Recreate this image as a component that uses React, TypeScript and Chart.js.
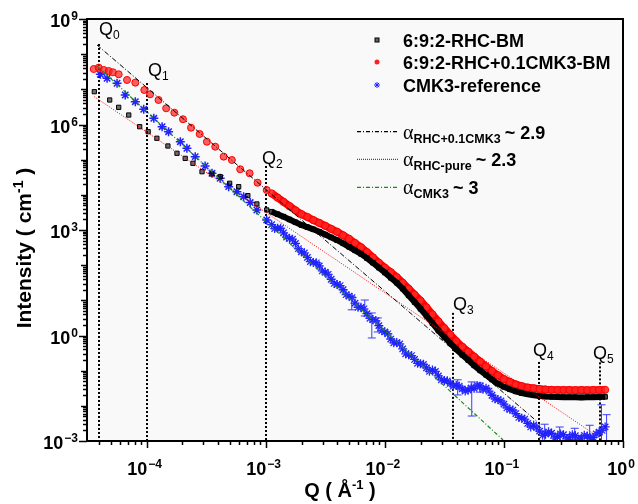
import { useEffect, useRef } from "react";
import { Chart, registerables } from "chart.js";

Chart.register(...registerables);

const FONT = "Arial, 'Liberation Sans', Helvetica, sans-serif";

// ---------- axis ranges ----------
const X_MIN = 3.16e-5;
const X_MAX = 1;
const Y_MIN = 1e-3;
const Y_MAX = 1e9;
const X_DECADES = [-4, -3, -2, -1, 0];
const Y_DECADES = [-3, 0, 3, 6, 9];

// ---------- 6:9:2-RHC-BM (black squares) ----------
const bmLowQ = [3.64e-5, 4.9e-5, 5.83e-5, 7.08e-5, 8.75e-5, 1.03e-4, 1.22e-4, 1.51e-4, 1.8e-4, 2.11e-4, 2.45e-4, 2.92e-4, 3.54e-4, 4.15e-4, 4.98e-4, 5.93e-4, 7.08e-4, 8.43e-4, 1.02e-3];
const bmLowI = [8.57e6, 4.98e6, 3.08e6, 1.86e6, 8.67e5, 6.25e5, 4.06e5, 2.45e5, 1.52e5, 1.09e5, 7.89e4, 4.55e4, 3.92e4, 3.28e4, 2.13e4, 1.71e4, 9.5e3, 5.5e3, 3.71e3];

// dense region Q (shared by the three measured curves)
const denseQ = [
  1.122e-3, 1.259e-3, 1.413e-3, 1.585e-3, 1.778e-3, 1.995e-3, 2.239e-3, 2.512e-3, 2.818e-3, 3.162e-3,
  3.548e-3, 3.981e-3, 4.467e-3, 5.012e-3, 5.623e-3, 6.31e-3, 7.079e-3, 7.943e-3, 8.913e-3, 1.0e-2,
  1.122e-2, 1.259e-2, 1.413e-2, 1.585e-2, 1.778e-2, 1.995e-2, 2.239e-2, 2.512e-2, 2.818e-2, 3.162e-2,
  3.548e-2, 3.981e-2, 4.467e-2, 5.012e-2, 5.623e-2, 6.31e-2, 7.079e-2, 7.943e-2, 8.913e-2, 0.1,
  0.1122, 0.1259, 0.1413, 0.1585, 0.1778, 0.1995, 0.2239, 0.2512, 0.2818, 0.3162,
  0.3548, 0.3981, 0.4467, 0.5012, 0.5623, 0.631, 0.7079,
];
const bmDenseI = [
  3311, 2818, 2399, 1995, 1660, 1380, 1202, 1047, 891, 741,
  617, 513, 417, 331, 263, 209, 158, 117, 85.1, 61.7,
  43.7, 31.6, 21.4, 13.8, 8.91, 5.75, 3.63, 2.24, 1.38, 0.912,
  0.603, 0.407, 0.282, 0.2, 0.141, 0.102, 0.0759, 0.0562, 0.0427, 0.0347,
  0.0295, 0.0257, 0.0229, 0.0214, 0.02, 0.0191, 0.0184, 0.018, 0.0178, 0.0176,
  0.0176, 0.0176, 0.0174, 0.0176, 0.0176, 0.0178, 0.018,
];

// ---------- 6:9:2-RHC+0.1CMK3-BM (red circles) ----------
const cmkLowQ = [3.6e-5, 3.96e-5, 4.37e-5, 4.81e-5, 5.22e-5, 5.83e-5, 6.85e-5, 8.04e-5, 9.57e-5, 1.07e-4, 1.26e-4, 1.46e-4, 1.71e-4, 2.02e-4, 2.36e-4, 2.79e-4, 3.21e-4, 3.77e-4, 4.44e-4, 5.2e-4, 6.11e-4, 7.33e-4, 8.55e-4, 1.02e-3];
const cmkLowI = [3.78e7, 4.12e7, 3.55e7, 3.32e7, 3.05e7, 2.68e7, 1.85e7, 1.55e7, 9.57e6, 7.23e6, 4.98e6, 2.89e6, 2.17e6, 1.41e6, 8.11e5, 5.37e5, 3.24e5, 2.34e5, 1.22e5, 9.79e4, 5.33e4, 4.1e4, 2.21e4, 1.37e4];
const cmkDenseI = [
  10965, 8318, 6310, 4786, 3631, 2818, 2344, 1905, 1585, 1318,
  1072, 891, 708, 562, 427, 324, 234, 166, 117, 85.1,
  63.1, 45.7, 31.6, 21.4, 14.5, 9.77, 6.31, 3.98, 2.51, 1.62,
  1.05, 0.692, 0.479, 0.347, 0.251, 0.182, 0.132, 0.0977, 0.0741, 0.0575,
  0.0479, 0.0407, 0.0363, 0.0331, 0.0316, 0.0302, 0.0292, 0.0285, 0.0282, 0.0282,
  0.0282, 0.0279, 0.0282, 0.0279, 0.0282, 0.0282, 0.0285,
];

// ---------- CMK3-reference (blue stars) ----------
const refLowQ = [4.09e-5, 4.66e-5, 5.65e-5, 6.62e-5, 8.04e-5, 9.46e-5, 1.15e-4, 1.35e-4, 1.53e-4, 1.92e-4, 2.18e-4, 2.56e-4, 3.1e-4, 3.54e-4, 4.15e-4, 4.89e-4, 5.73e-4, 6.53e-4, 7.41e-4, 8.43e-4, 1.02e-3];
const refLowI = [2.68e7, 2.06e7, 1.49e7, 6.9e6, 4.46e6, 2.7e6, 1.5e6, 8.67e5, 6.25e5, 3.24e5, 2.1e5, 1.22e5, 6.61e4, 4.1e4, 2.96e4, 1.71e4, 1.23e4, 8.87e3, 6.03e3, 3.71e3, 1.93e3];
const refDenseI = [
  1413, 1122, 832, 575, 417, 240, 166, 120, 95.5, 63.1,
  39.8, 28.2, 20.0, 13.2, 8.32, 6.31, 4.17, 2.82, 1.91, 1.26,
  0.794, 0.631, 0.417, 0.282, 0.209, 0.158, 0.12, 0.105, 0.0708, 0.0525,
  0.0437, 0.038, 0.0302, 0.0282, 0.0316, 0.0363, 0.0316, 0.02, 0.0151, 0.0112,
  0.00794, 0.00603, 0.00447, 0.00316, 0.00282, 0.00191, 0.00158, 0.00166, 0.00132, 0.00151,
  0.00126, 0.00141, 0.0012, 0.00138, 0.00126, 0.00178, 0.00251,
];
// interleaved reference points (between the dense Q above)
const refMidQ = [
  1.189e-3, 1.334e-3, 1.496e-3, 1.679e-3, 1.884e-3, 2.113e-3, 2.371e-3, 2.661e-3, 2.985e-3, 3.35e-3,
  3.758e-3, 4.217e-3, 4.732e-3, 5.309e-3, 5.957e-3, 6.683e-3, 7.499e-3, 8.414e-3, 9.441e-3,
  1.059e-2, 1.189e-2, 1.334e-2, 1.496e-2, 1.679e-2, 1.884e-2, 2.113e-2, 2.371e-2, 2.661e-2, 2.985e-2,
  3.35e-2, 3.758e-2, 4.217e-2, 4.732e-2, 5.309e-2, 5.957e-2, 6.683e-2, 7.499e-2, 8.414e-2, 9.441e-2,
  0.1059, 0.1189, 0.1334, 0.1496, 0.1679, 0.1884, 0.2113, 0.2371, 0.2661, 0.2985,
  0.335, 0.3758, 0.4217, 0.4732, 0.5309, 0.5957, 0.6683,
];
const refMidI = [
  1096, 1122, 631, 550, 295, 224, 126, 117, 69.2, 55.0,
  30.2, 26.3, 14.5, 12.0, 6.31, 5.75, 3.09, 2.63, 1.38,
  1.12, 0.617, 0.575, 0.302, 0.269, 0.162, 0.151, 0.0955, 0.0955, 0.055,
  0.0513, 0.0363, 0.0363, 0.0263, 0.0324, 0.038, 0.0295, 0.0263, 0.0158, 0.0138,
  0.00871, 0.00759, 0.00468, 0.00417, 0.00251, 0.0024, 0.00145, 0.00182, 0.0012, 0.00158,
  0.00115, 0.00151, 0.00112, 0.00145, 0.00117, 0.00158, 0.002,
];
// error bars on the reference curve
const refErrQ = [5.28e-3, 6.79e-3, 7.78e-3, 8.73e-3, 0.0409, 0.0537, 0.0627, 0.22, 0.294, 0.393, 0.525, 0.66, 0.728];
const refErrLo = [5.37, 3.59, 0.851, 1.26, 0.0204, 0.00513, 0.0245, 0.001, 0.001, 0.0011, 0.001, 0.0009, 0.001];
const refErrHi = [12.6, 10.2, 4.37, 3.16, 0.055, 0.0479, 0.0447, 0.003, 0.0025, 0.0023, 0.0028, 0.0107, 0.0056];

// ---------- power-law fits ----------
const fitCmkQ = [3.84e-5, 0.192];
const fitCmkI = [1.82e8, 3.48e-3];
const fitPureQ = [3.64e-5, 0.56];
const fitPureI = [6.17e6, 1.66e-3];
const fitRefQ = [3.84e-5, 0.0984];
const fitRefI = [4.61e7, 1.07e-3];

// ---------- Q markers ----------
const qMarkNames = ["0", "1", "2", "3", "4", "5"];
const qMarkQ = [3.96e-5, 1.0e-4, 1.0e-3, 0.0374, 0.196, 0.64];
const qMarkTopI = [1.95e8, 1.51e7, 6.6e4, 4.4, 0.177, 0.172];

// ---------- legend text ----------
const seriesNames = ["6:9:2-RHC-BM", "6:9:2-RHC+0.1CMK3-BM", "CMK3-reference"];
const fitSubs = ["RHC+0.1CMK3", "RHC-pure", "CMK3"];
const fitValues = ["~ 2.9", "~ 2.3", "~ 3"];

// style-only constants (not data)
const Q_LABEL_DX = [0, 1, -4, 0, -6, -7];
const Q_LABEL_DY = [-9, -7, -2, -3, -6, -3];

const toXY = (q: number[], v: number[]) => q.map((x, k) => ({ x, y: v[k] }));

function drawPow(ctx: CanvasRenderingContext2D, base: string, exp: string, x: number, y: number, align: "center" | "right") {
  ctx.font = `bold 18px ${FONT}`;
  const wb = ctx.measureText(base).width;
  ctx.font = `bold 12px ${FONT}`;
  const we = ctx.measureText(exp).width;
  const total = wb + we + 1;
  const x0 = align === "center" ? x - total / 2 : x - total;
  ctx.textAlign = "left";
  ctx.textBaseline = "alphabetic";
  ctx.font = `bold 18px ${FONT}`;
  ctx.fillText(base, x0, y);
  ctx.font = `bold 12px ${FONT}`;
  ctx.fillText(exp, x0 + wb + 1, y - 7);
}

function expText(d: number) {
  return d < 0 ? "\u2212" + String(-d) : String(d);
}

const decor = {
  id: "decor",
  beforeDraw(chart: any) {
    const { ctx, chartArea: a } = chart;
    ctx.save();
    ctx.fillStyle = "#ffffff";
    ctx.fillRect(0, 0, chart.width, chart.height);
    ctx.fillStyle = "#f9f9f9";
    ctx.fillRect(a.left, a.top, a.right - a.left, a.bottom - a.top);
    ctx.restore();
  },
  beforeDatasetsDraw(chart: any) {
    const { ctx, chartArea: a } = chart;
    const xs = chart.scales.x;
    const ys = chart.scales.y;
    ctx.save();
    ctx.beginPath();
    ctx.rect(a.left, a.top, a.right - a.left, a.bottom - a.top);
    ctx.clip();
    // dotted Q lines
    ctx.strokeStyle = "#000";
    ctx.lineWidth = 2;
    ctx.setLineDash([2, 2]);
    qMarkQ.forEach((q, k) => {
      const px = Math.round(xs.getPixelForValue(q));
      const top = ys.getPixelForValue(qMarkTopI[k]);
      ctx.beginPath();
      ctx.moveTo(px, top);
      ctx.lineTo(px, a.bottom);
      ctx.stroke();
    });
    ctx.setLineDash([]);
    // error bars
    ctx.strokeStyle = "#3b3bff";
    ctx.lineWidth = 1;
    refErrQ.forEach((q, k) => {
      const px = xs.getPixelForValue(q);
      const y1 = ys.getPixelForValue(refErrLo[k]);
      const y2 = ys.getPixelForValue(refErrHi[k]);
      ctx.beginPath();
      ctx.moveTo(px, y1);
      ctx.lineTo(px, y2);
      ctx.moveTo(px - 4, y1);
      ctx.lineTo(px + 4, y1);
      ctx.moveTo(px - 4, y2);
      ctx.lineTo(px + 4, y2);
      ctx.stroke();
    });
    ctx.restore();
  },
  afterDraw(chart: any) {
    const { ctx, chartArea: a } = chart;
    const xs = chart.scales.x;
    const ys = chart.scales.y;
    ctx.save();
    ctx.fillStyle = "#000";
    ctx.strokeStyle = "#000";

    // ticks
    ctx.lineWidth = 1.5;
    ctx.beginPath();
    for (let d = -5; d <= 0; d++) {
      for (let m = 1; m <= 9; m++) {
        const v = m * Math.pow(10, d);
        if (v < X_MIN * 0.999 || v > X_MAX * 1.0001) continue;
        const px = Math.round(xs.getPixelForValue(v)) + 0.5;
        const len = m === 1 ? 7 : 4;
        ctx.moveTo(px, a.bottom);
        ctx.lineTo(px, a.bottom + len);
      }
    }
    for (let d = -3; d <= 9; d++) {
      for (let m = 1; m <= 9; m++) {
        const v = m * Math.pow(10, d);
        if (v > Y_MAX * 1.0001) continue;
        const py = Math.round(ys.getPixelForValue(v)) + 0.5;
        const len = m === 1 ? (d % 3 === 0 ? 8 : 6) : 4;
        ctx.moveTo(a.left - len, py);
        ctx.lineTo(a.left, py);
      }
    }
    ctx.stroke();

    // frame
    ctx.lineWidth = 2;
    ctx.strokeRect(a.left, a.top, a.right - a.left, a.bottom - a.top);

    // tick labels
    X_DECADES.forEach((d) => {
      const px = xs.getPixelForValue(Math.pow(10, d));
      drawPow(ctx, "10", expText(d), px - 2, 475, "center");
    });
    Y_DECADES.forEach((d) => {
      const py = ys.getPixelForValue(Math.pow(10, d));
      drawPow(ctx, "10", expText(d), 78, py + 8, "right");
    });

    // axis titles
    const drawTitle = (parts: [string, boolean][], cx: number, cy: number, size: number) => {
      const widths = parts.map(([t, sup]) => {
        ctx.font = sup ? `bold ${Math.round(size * 0.65)}px ${FONT}` : `bold ${size}px ${FONT}`;
        return ctx.measureText(t).width;
      });
      const total = widths.reduce((s, w) => s + w, 0);
      let x = cx - total / 2;
      parts.forEach(([t, sup], k) => {
        ctx.font = sup ? `bold ${Math.round(size * 0.65)}px ${FONT}` : `bold ${size}px ${FONT}`;
        ctx.fillText(t, x, sup ? cy - size * 0.4 : cy);
        x += widths[k];
      });
    };
    ctx.textAlign = "left";
    ctx.textBaseline = "alphabetic";
    drawTitle([["Q ( \u00C5", false], ["-1", true], [" )", false]], 340, 497, 20);
    ctx.save();
    ctx.translate(31, 248);
    ctx.rotate(-Math.PI / 2);
    drawTitle([["Intensity ( cm", false], ["-1", true], [" )", false]], 0, 0, 21);
    ctx.restore();

    // Q labels
    qMarkQ.forEach((q, k) => {
      const px = Math.round(xs.getPixelForValue(q));
      const top = ys.getPixelForValue(qMarkTopI[k]);
      const x0 = px + Q_LABEL_DX[k];
      const y0 = top + Q_LABEL_DY[k];
      ctx.font = `18px ${FONT}`;
      ctx.fillText("Q", x0, y0);
      const w = ctx.measureText("Q").width;
      ctx.font = `12px ${FONT}`;
      ctx.fillText(qMarkNames[k], x0 + w, y0 + 4);
    });

    // legend: measured series
    const legBase = [47, 69, 92];
    seriesNames.forEach((name, k) => {
      ctx.font = `bold 18px ${FONT}`;
      ctx.fillStyle = "#000";
      ctx.fillText(name, 403, legBase[k]);
      const my = legBase[k] - 7;
      if (k === 0) {
        ctx.fillStyle = "rgba(0,0,0,0.6)";
        ctx.fillRect(375, my - 2, 4, 4);
        ctx.lineWidth = 1;
        ctx.strokeStyle = "#000";
        ctx.strokeRect(375, my - 2, 4, 4);
      } else if (k === 1) {
        ctx.fillStyle = "#ff2020";
        ctx.beginPath();
        ctx.arc(377, my, 2.5, 0, Math.PI * 2);
        ctx.fill();
      } else {
        ctx.strokeStyle = "#2020ff";
        ctx.lineWidth = 1;
        ctx.beginPath();
        for (let i = 0; i < 4; i++) {
          const ang = (i * Math.PI) / 4;
          ctx.moveTo(377 - 3 * Math.cos(ang), my - 3 * Math.sin(ang));
          ctx.lineTo(377 + 3 * Math.cos(ang), my + 3 * Math.sin(ang));
        }
        ctx.stroke();
      }
    });

    // legend: fits
    const fitLineY = [131.7, 159.3, 187.3];
    const fitBase = [138.5, 166, 194];
    const fitColors = ["#000000", "#ff0000", "#1a8c1a"];
    const fitDash = [[4, 2, 1, 2], [1, 1], [4, 2, 1, 2]];
    fitSubs.forEach((sub, k) => {
      ctx.strokeStyle = fitColors[k];
      ctx.lineWidth = 1.2;
      ctx.setLineDash(fitDash[k]);
      ctx.beginPath();
      ctx.moveTo(357, fitLineY[k]);
      ctx.lineTo(398, fitLineY[k]);
      ctx.stroke();
      ctx.setLineDash([]);
      ctx.fillStyle = "#000";
      let x = 403;
      ctx.font = `20px 'Liberation Serif', 'DejaVu Serif', serif`;
      ctx.fillText("\u03B1", x, fitBase[k]);
      x += ctx.measureText("\u03B1").width;
      ctx.font = `bold 12.5px ${FONT}`;
      ctx.fillText(sub, x, fitBase[k] + 4);
      x += ctx.measureText(sub).width + 4;
      ctx.font = `bold 18px ${FONT}`;
      ctx.fillText(fitValues[k], x, fitBase[k]);
    });

    ctx.restore();
  },
};

export default function App() {
  const ref = useRef<HTMLCanvasElement>(null);
  useEffect(() => {
    document.body.style.margin = "0";
    const canvas = ref.current;
    if (!canvas) return;
    const chart = new Chart(canvas, {
      type: "scatter",
      data: {
        datasets: [
          { label: "fit RHC+0.1CMK3", data: toXY(fitCmkQ, fitCmkI), showLine: true, borderColor: "#000", borderWidth: 1, borderDash: [5, 2, 1, 2], pointRadius: 0, order: 0 },
          { label: "fit RHC-pure", data: toXY(fitPureQ, fitPureI), showLine: true, borderColor: "#ff0000", borderWidth: 1, borderDash: [1, 1.5], pointRadius: 0, order: 0 },
          { label: "fit CMK3", data: toXY(fitRefQ, fitRefI), showLine: true, borderColor: "#1a8c1a", borderWidth: 1.2, borderDash: [4, 2, 1, 2], pointRadius: 0, order: 0 },
          { label: seriesNames[0], data: toXY(bmLowQ, bmLowI), pointStyle: "rect", pointRadius: 3, backgroundColor: "rgba(0,0,0,0.55)", borderColor: "#000", borderWidth: 1, order: 1 },
          { label: seriesNames[0] + " dense", data: toXY(denseQ, bmDenseI), showLine: true, borderColor: "#000", borderWidth: 6, pointStyle: "rect", pointRadius: 3.2, pointBackgroundColor: "rgba(0,0,0,0.7)", pointBorderColor: "#000", pointBorderWidth: 1, order: 1 },
          { label: seriesNames[1], data: toXY(cmkLowQ, cmkLowI), pointStyle: "circle", pointRadius: 3.5, backgroundColor: "rgba(255,30,30,0.7)", borderColor: "#ff0000", borderWidth: 1, order: 2 },
          { label: seriesNames[1] + " dense", data: toXY(denseQ, cmkDenseI), showLine: true, borderColor: "#ff0000", borderWidth: 7.5, pointStyle: "circle", pointRadius: 3.6, pointBackgroundColor: "rgba(255,40,40,0.85)", pointBorderColor: "#ff0000", pointBorderWidth: 1, order: 2 },
          { label: seriesNames[2], data: toXY(refLowQ, refLowI), pointStyle: "star", pointRadius: 4.5, borderColor: "#2020ff", backgroundColor: "#2020ff", borderWidth: 1.5, order: 3 },
          { label: seriesNames[2] + " dense", data: toXY(denseQ, refDenseI), pointStyle: "star", pointRadius: 4.5, borderColor: "#2020ff", backgroundColor: "#2020ff", borderWidth: 1.3, order: 3 },
          { label: seriesNames[2] + " mid", data: toXY(refMidQ, refMidI), pointStyle: "star", pointRadius: 4.5, borderColor: "#3030ff", backgroundColor: "#3030ff", borderWidth: 1.3, order: 3 },
        ],
      },
      options: {
        animation: false,
        responsive: false,
        events: [],
        layout: { padding: { top: 19, right: 15, left: 0, bottom: 0 } },
        plugins: { legend: { display: false }, tooltip: { enabled: false } },
        scales: {
          x: {
            type: "logarithmic",
            min: X_MIN,
            max: X_MAX,
            ticks: { display: false },
            grid: { display: false },
            border: { display: false },
            afterFit: (s: any) => { s.height = 63; },
          },
          y: {
            type: "logarithmic",
            min: Y_MIN,
            max: Y_MAX,
            ticks: { display: false },
            grid: { display: false },
            border: { display: false },
            afterFit: (s: any) => { s.width = 87; },
          },
        },
      } as any,
      plugins: [decor],
    });
    return () => chart.destroy();
  }, []);
  return <canvas ref={ref} width={638} height={504} style={{ display: "block" }} />;
}
